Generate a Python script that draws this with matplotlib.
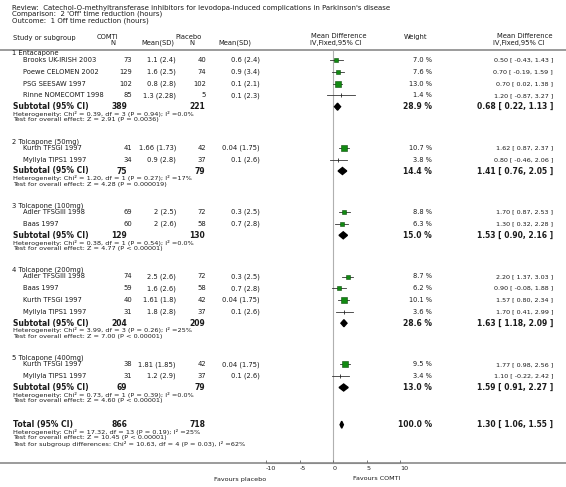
import matplotlib
matplotlib.use('Agg')
import matplotlib.pyplot as plt

plt.rcParams['axes.unicode_minus'] = False

# ---- data ----
title_lines = [
    "Review:  Catechol-O-methyltransferase inhibitors for levodopa-induced complications in Parkinson's disease",
    "Comparison:  2 'Off' time reduction (hours)",
    "Outcome:  1 Off time reduction (hours)",
]

group_labels = ["1 Entacapone", "2 Tolcapone (50mg)", "3 Tolcapone (100mg)",
                "4 Tolcapone (200mg)", "5 Tolcapone (400mg)"]

study_group = [0, 0, 0, 0, 1, 1, 2, 2, 3, 3, 3, 3, 4, 4]
study_names = ["Brooks UK-IRISH 2003", "Poewe CELOMEN 2002", "PSG SEESAW 1997",
               "Rinne NOMECOMT 1998", "Kurth TFSGI 1997", "Myllyla TIPS1 1997",
               "Adler TFSGIII 1998", "Baas 1997", "Adler TFSGIII 1998", "Baas 1997",
               "Kurth TFSGI 1997", "Myllyla TIPS1 1997", "Kurth TFSGI 1997",
               "Myllyla TIPS1 1997"]
comti_n = [73, 129, 102, 85, 41, 34, 69, 60, 74, 59, 40, 31, 38, 31]
comti_mean = [1.1, 1.6, 0.8, 1.3, 1.66, 0.9, 2, 2, 2.5, 1.6, 1.61, 1.8, 1.81, 1.2]
comti_sd = [2.4, 2.5, 2.8, 2.28, 1.73, 2.8, 2.5, 2.6, 2.6, 2.6, 1.8, 2.8, 1.85, 2.9]
placebo_n = [40, 74, 102, 5, 42, 37, 72, 58, 72, 58, 42, 37, 42, 37]
placebo_mean = [0.6, 0.9, 0.1, 0.1, 0.04, 0.1, 0.3, 0.7, 0.3, 0.7, 0.04, 0.1, 0.04, 0.1]
placebo_sd = [2.4, 3.4, 2.1, 2.3, 1.75, 2.6, 2.5, 2.8, 2.5, 2.8, 1.75, 2.6, 1.75, 2.6]
weights = [7.0, 7.6, 13.0, 1.4, 10.7, 3.8, 8.8, 6.3, 8.7, 6.2, 10.1, 3.6, 9.5, 3.4]
md = [0.50, 0.70, 0.70, 1.20, 1.62, 0.80, 1.70, 1.30, 2.20, 0.90, 1.57, 1.70, 1.77, 1.10]
ci_lo = [-0.43, -0.19, 0.02, -0.87, 0.87, -0.46, 0.87, 0.32, 1.37, -0.08, 0.80, 0.41, 0.98, -0.22]
ci_hi = [1.43, 1.59, 1.38, 3.27, 2.37, 2.06, 2.53, 2.28, 3.03, 1.88, 2.34, 2.99, 2.56, 2.42]

sub_comti_n = [389, 75, 129, 204, 69]
sub_placebo_n = [221, 79, 130, 209, 79]
sub_weight = [28.9, 14.4, 15.0, 28.6, 13.0]
sub_md = [0.68, 1.41, 1.53, 1.63, 1.59]
sub_lo = [0.22, 0.76, 0.90, 1.18, 0.91]
sub_hi = [1.13, 2.05, 2.16, 2.09, 2.27]
sub_chi2 = [0.39, 1.20, 0.38, 3.99, 0.73]
sub_df = [3, 1, 1, 3, 1]
sub_p = ["0.94", "0.27", "0.54", "0.26", "0.39"]
sub_i2 = ["0.0%", "17%", "0.0%", "25%", "0.0%"]
sub_z = [2.91, 4.28, 4.77, 7.00, 4.60]
sub_pz = ["= 0.0036", "= 0.000019", "< 0.00001", "< 0.00001", "< 0.00001"]

total_comti_n, total_placebo_n = 866, 718
total_weight, total_md, total_lo, total_hi = 100.0, 1.30, 1.06, 1.55
total_lines = ["Heterogeneity: Chi\u00b2 = 17.32, df = 13 (P = 0.19); I\u00b2 =25%",
               "Test for overall effect: Z = 10.45 (P < 0.00001)",
               "Test for subgroup differences: Chi\u00b2 = 10.63, df = 4 (P = 0.03), I\u00b2 =62%"]

xticks = [-10, -5, 0, 5, 10]
favours_left, favours_right = "Favours placebo", "Favours COMTI"

# ---- figure ----
W, H = 566, 487
fig = plt.figure(figsize=(W / 100, H / 100), dpi=100)
bg = fig.add_axes([0, 0, 1, 1])
bg.set_xlim(0, W)
bg.set_ylim(H, 0)
bg.axis('off')

fx0, fx1, axis_y = 266, 400, 463
fa = fig.add_axes([fx0 / W, 0, (fx1 - fx0) / W, 1])
fa.set_xlim(-10, 10)
fa.set_ylim(H, 0)
fa.patch.set_alpha(0)
for s in ['top', 'left', 'right']:
    fa.spines[s].set_visible(False)
fa.spines['bottom'].set_position(('data', axis_y))
fa.spines['bottom'].set_color('#8a8a8a')
fa.set_yticks([])
fa.set_xticks(xticks)
fa.set_xticklabels([str(t) for t in xticks])
fa.tick_params(axis='x', direction='in', length=2, width=0.6, color='#666666',
               labelsize=4.6, pad=2, labelcolor='#222222')
for lab in fa.get_xticklabels():
    lab.set_horizontalalignment('left')

TXT = '#1a1a1a'
FS = 4.9
FS_SMALL = 4.65
FS_BOLD = 5.5


def txt(x, y, s, ha='left', size=FS, weight='normal'):
    bg.text(x, y, s, ha=ha, va='center', fontsize=size, color=TXT, fontweight=weight)


for i, line in enumerate(title_lines):
    txt(12, 8 + i * 6.2, line, size=5.0)

# header
txt(13, 38, "Study or subgroup")
txt(107, 37, "COMTI", ha='center')
txt(113, 43, "N", ha='center')
txt(158, 43, "Mean(SD)", ha='center')
txt(189, 37, "Placebo", ha='center')
txt(192, 43, "N", ha='center')
txt(235, 43, "Mean(SD)", ha='center')
txt(311, 36, "Mean Difference")
txt(310, 42.5, "IV,Fixed,95% CI")
txt(416, 36.5, "Weight", ha='center')
txt(497, 36, "Mean Difference")
txt(493, 42.5, "IV,Fixed,95% CI")
bg.plot([0, W], [49.5, 49.5], color='#8a8a8a', lw=1.2)

fa.plot([0, 0], [51, axis_y], color='#b0b0b0', lw=0.8, zorder=1)
bg.plot([0, W], [axis_y, axis_y], color='#8a8a8a', lw=1.2)


def diamond(y, m, lo, hi, h=3.5):
    fa.fill([lo, m, hi, m], [y, y - h, y, y + h], color='black', zorder=3)


y = 53.5
for g, label in enumerate(group_labels):
    txt(12, y, label)
    y += 6.5
    for i in [k for k, sg in enumerate(study_group) if sg == g]:
        txt(23, y, study_names[i])
        txt(132, y, str(comti_n[i]), ha='right')
        txt(176, y, f"{comti_mean[i]:g} ({comti_sd[i]:g})", ha='right')
        txt(206, y, str(placebo_n[i]), ha='right')
        txt(260, y, f"{placebo_mean[i]:g} ({placebo_sd[i]:g})", ha='right')
        txt(432, y, f"{weights[i]:.1f} %", ha='right', size=4.8)
        txt(553, y, f"{md[i]:.2f} [ {ci_lo[i]:.2f}, {ci_hi[i]:.2f} ]", ha='right', size=4.6)
        fa.plot([ci_lo[i], ci_hi[i]], [y, y], color='#333333', lw=0.6, zorder=2)
        if weights[i] < 5:
            fa.plot(md[i], y, '|', ms=3, mew=0.6, color='#222222', zorder=3)
        else:
            fa.plot(md[i], y, 's', ms=1.2 * weights[i] ** 0.5, mfc='#118a11',
                    mec='#0b4d0b', mew=0.4, zorder=3)
        y += 11.8
    y += -11.8 + 11.3
    txt(13, y, "Subtotal (95% CI)", size=FS_BOLD, weight='bold')
    txt(127, y, str(sub_comti_n[g]), ha='right', size=FS_BOLD, weight='bold')
    txt(205, y, str(sub_placebo_n[g]), ha='right', size=FS_BOLD, weight='bold')
    txt(432, y, f"{sub_weight[g]:.1f} %", ha='right', size=FS_BOLD, weight='bold')
    txt(553, y, f"{sub_md[g]:.2f} [ {sub_lo[g]:.2f}, {sub_hi[g]:.2f} ]", ha='right',
        size=FS_BOLD, weight='bold')
    diamond(y, sub_md[g], sub_lo[g], sub_hi[g])
    y += 7.2
    txt(13, y, f"Heterogeneity: Chi\u00b2 = {sub_chi2[g]:.2f}, df = {sub_df[g]} "
               f"(P = {sub_p[g]}); I\u00b2 ={sub_i2[g]}", size=FS_SMALL)
    y += 6
    txt(13, y, f"Test for overall effect: Z = {sub_z[g]:.2f} (P {sub_pz[g]})", size=FS_SMALL)
    y += 21.5

y += 2.5
txt(13, y, "Total (95% CI)", size=FS_BOLD, weight='bold')
txt(127, y, str(total_comti_n), ha='right', size=FS_BOLD, weight='bold')
txt(205, y, str(total_placebo_n), ha='right', size=FS_BOLD, weight='bold')
txt(432, y, f"{total_weight:.1f} %", ha='right', size=FS_BOLD, weight='bold')
txt(553, y, f"{total_md:.2f} [ {total_lo:.2f}, {total_hi:.2f} ]", ha='right',
    size=FS_BOLD, weight='bold')
diamond(y, total_md, total_lo, total_hi)
y += 7.2
for line in total_lines:
    txt(13, y, line, size=FS_SMALL)
    y += 6

txt(266, 479, favours_left, ha='right', size=4.6)
txt(400, 479, favours_right, ha='right', size=4.6)

fig.savefig('out.png', dpi=100)
